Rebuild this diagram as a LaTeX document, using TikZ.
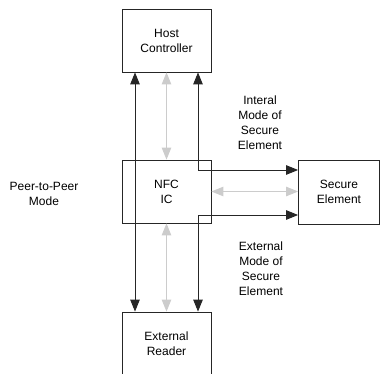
\documentclass[tikz,border=0pt]{standalone}
\usepackage{fontspec}
\setmainfont{Liberation Sans}
\usepackage{tikz}
\usetikzlibrary{arrows.meta, positioning}

\tikzset{
	block/.style={draw=black!85, line width=0.8pt, inner sep=0pt, align=center, font=\fontsize{12}{15}\selectfont},
	note/.style={align=center, inner sep=0pt, font=\fontsize{12}{15}\selectfont},
	link/.style={line width=0.9pt, black!85, {Triangle[length=12pt,width=9.5pt]}-{Triangle[length=12pt,width=9.5pt]}},
	faint/.style={line width=0.9pt, black!20, {Triangle[length=12pt,width=9.5pt]}-{Triangle[length=12pt,width=9.5pt]}}
}

\begin{document}
\begin{tikzpicture}[x=1pt, y=1pt]
			\useasboundingbox (0, 0) rectangle (380, 373);
			\clip (0, 0) rectangle (380, 373);
			% Blocks:
			\node[block, minimum width=89pt, minimum height=63pt](host) at (166.5, 332.5){Host\\Controller};
			\node[block, minimum width=89pt, minimum height=63pt](nfc) at (166.5, 181.5){NFC\\IC};
			\node[block, minimum width=81pt, minimum height=64pt](secure) at (339, 181){Secure\\Element};
			\node[block, minimum width=89pt, minimum height=63pt](reader) at (166.5, 29.5){External\\Reader};
			% Labels:
			\node[note](inmode) at (260, 250.5){Interal\\Mode of\\Secure\\Element};
			\node[note](exmode) at (261, 104){External\\Mode of\\Secure\\Element};
			\node[note](p2p) at (44, 179.5){Peer-to-Peer\\Mode};
			% Connectors:
			\draw[link] ([xshift=-31.5pt]reader.north) -- ([xshift=-31.5pt]host.south);
			\draw[faint] (host.south) -- (nfc.north);
			\draw[faint] (nfc.south) -- (reader.north);
			\draw[faint] (nfc.east) -- (nfc.east -| secure.west);
			\draw[link] ([xshift=31.5pt]host.south) |- ([yshift=22pt]secure.west);
			\draw[link] ([xshift=31.5pt]reader.north) |- ([yshift=-23pt]secure.west);
		\end{tikzpicture}
\end{document}
